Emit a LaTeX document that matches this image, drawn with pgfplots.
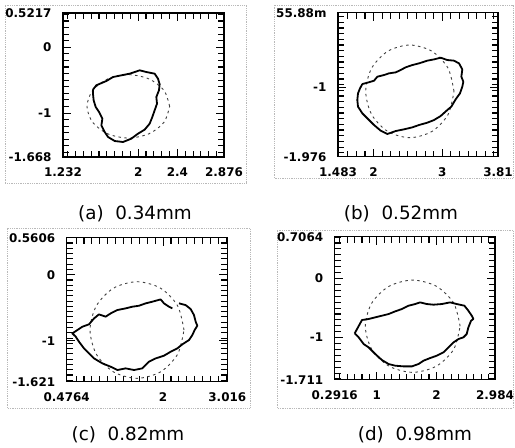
\documentclass[border=0pt]{standalone}
\usepackage{fontspec}
\setmainfont{DejaVu Sans}
\usepackage{pgfplots}
\pgfplotsset{compat=1.18}
\pgfplotsset{
  panel/.style={scale only axis, anchor=south west,
    axis line style={line width=1.2bp},
    tick align=inside,
    xticklabel={\hbox{}}, yticklabel={\hbox{}},
    ticklabel style={font=\bfseries\fontsize{12}{12}\selectfont},
    xticklabel style={yshift=-7.5bp},
    yticklabel style={xshift=-8bp}},
  prof/.style={black, line width=1.8bp, line join=round, mark=none},
  circ/.style={black!75, line width=0.9bp, dash pattern=on 2.5bp off 3.5bp, smooth, mark=none}
}
\begin{document}
\begin{tikzpicture}
\path[use as bounding box] (0,0) rectangle (515bp,448bp);
% outer frames
\draw[gray!55, line width=0.8bp, densely dotted] (5bp,265bp) rectangle (246bp,443bp);
\draw[gray!55, line width=0.8bp, densely dotted] (274bp,270bp) rectangle (513bp,443bp);
\draw[gray!55, line width=0.8bp, densely dotted] (7bp,40bp) rectangle (250bp,220bp);
\draw[gray!55, line width=0.8bp, densely dotted] (277bp,40bp) rectangle (513bp,218bp);
% captions
\node[font=\fontsize{18.4}{20}\selectfont] at (135bp,234bp) {(a)\ \ 0.34mm};
\node[font=\fontsize{18.4}{20}\selectfont] at (401bp,234bp) {(b)\ \ 0.52mm};
\node[font=\fontsize{18.4}{20}\selectfont] at (128bp,13bp) {(c)\ \ 0.82mm};
\node[font=\fontsize{18.4}{20}\selectfont] at (415bp,13bp) {(d)\ \ 0.98mm};

% (a)
\begin{axis}[panel, at={(63bp,291bp)}, width=161bp, height=144bp,
  xmin=1.232, xmax=2.876, ymin=-1.668, ymax=0.5217,
  xtick={1.28,1.36,...,2.85}, ytick={-1.6,-1.5,...,0.5},
  extra x ticks={1.232,2,2.4,2.876}, extra x tick labels={1.232,2,2.4,2.876},
  extra y ticks={-1.668,-1,0,0.5217}, extra y tick labels={-1.668,-1,0,0.5217},
  major tick length=6bp, tick style={black, line width=1.1bp},
  extra tick style={major tick length=8bp}]
\addplot[circ] coordinates {(2.321,-0.898) (2.264,-0.657) (2.110,-0.481) (1.899,-0.416) (1.688,-0.481) (1.534,-0.657) (1.477,-0.898) (1.534,-1.139) (1.688,-1.315) (1.899,-1.380) (2.110,-1.315) (2.264,-1.139) (2.321,-0.898)};
\addplot[prof] coordinates {(1.538,-0.644) (1.572,-0.578) (1.675,-0.512) (1.743,-0.452) (1.828,-0.426) (1.913,-0.401) (2.015,-0.350) (2.083,-0.376) (2.168,-0.401) (2.202,-0.477) (2.219,-0.563) (2.212,-0.654) (2.185,-0.756) (2.192,-0.857) (2.168,-0.958) (2.144,-1.060) (2.117,-1.161) (2.066,-1.252) (1.998,-1.313) (1.930,-1.389) (1.845,-1.440) (1.760,-1.425) (1.692,-1.364) (1.658,-1.288) (1.624,-1.187) (1.634,-1.085) (1.600,-0.984) (1.566,-0.908) (1.545,-0.806) (1.538,-0.705) (1.538,-0.644)};
\end{axis}

% (b)
\begin{axis}[panel, at={(338bp,291.3bp)}, width=160bp, height=144bp,
  xmin=1.483, xmax=3.81, ymin=-1.976, ymax=0.05588,
  xtick={1.625,1.75,...,3.76}, ytick={-1.92,-1.84,...,0.01},
  extra x ticks={1.483,2,3,3.81}, extra x tick labels={1.483,2,3,3.81},
  extra y ticks={-1.976,-1,0.05588}, extra y tick labels={-1.976,-1,55.88m},
  major tick length=6bp, tick style={black, line width=1.1bp},
  extra tick style={major tick length=8bp}]
\addplot[circ] coordinates {(3.170,-1.054) (3.084,-0.727) (2.849,-0.488) (2.528,-0.400) (2.207,-0.488) (1.972,-0.727) (1.886,-1.054) (1.972,-1.381) (2.207,-1.620) (2.528,-1.708) (2.849,-1.620) (3.084,-1.381) (3.170,-1.054)};
\addplot[prof] coordinates {(1.837,-0.951) (1.910,-0.932) (2.007,-0.904) (2.055,-0.847) (2.152,-0.824) (2.225,-0.800) (2.322,-0.786) (2.394,-0.753) (2.467,-0.715) (2.564,-0.683) (2.661,-0.659) (2.782,-0.621) (2.879,-0.603) (2.976,-0.579) (3.073,-0.612) (3.170,-0.621) (3.243,-0.659) (3.291,-0.744) (3.277,-0.847) (3.306,-0.918) (3.291,-0.988) (3.257,-1.082) (3.194,-1.167) (3.131,-1.270) (3.073,-1.317) (2.976,-1.402) (2.879,-1.459) (2.782,-1.496) (2.661,-1.529) (2.564,-1.562) (2.443,-1.590) (2.322,-1.614) (2.200,-1.656) (2.104,-1.609) (2.007,-1.529) (1.910,-1.435) (1.837,-1.364) (1.774,-1.270) (1.764,-1.176) (1.774,-1.082) (1.803,-1.012) (1.837,-0.951)};
\end{axis}

% (c)
\begin{axis}[panel, at={(66.7bp,66.3bp)}, width=160.6bp, height=144bp,
  xmin=0.4764, xmax=3.016, ymin=-1.621, ymax=0.5606,
  xtick={0.625,0.75,...,2.96}, ytick={-1.6,-1.52,...,0.55},
  extra x ticks={0.4764,2,3.016}, extra x tick labels={0.4764,2,3.016},
  extra y ticks={-1.621,-1,0,0.5606}, extra y tick labels={-1.621,-1,0,0.5606},
  major tick length=6bp, tick style={black, line width=1.1bp},
  extra tick style={major tick length=8bp}]
\addplot[circ] coordinates {(2.331,-0.838) (2.231,-0.472) (1.960,-0.204) (1.588,-0.106) (1.216,-0.204) (0.945,-0.472) (0.845,-0.838) (0.945,-1.204) (1.216,-1.472) (1.588,-1.570) (1.960,-1.472) (2.231,-1.204) (2.331,-0.838)};
\addplot[prof] coordinates {(2.252,-0.434) (2.357,-0.460) (2.436,-0.520) (2.489,-0.611) (2.516,-0.712) (2.542,-0.773) (2.500,-0.838) (2.463,-0.914) (2.410,-0.990) (2.305,-1.055) (2.226,-1.116) (2.120,-1.167) (2.015,-1.227) (1.883,-1.268) (1.778,-1.318) (1.672,-1.419) (1.541,-1.444) (1.409,-1.419) (1.277,-1.444) (1.172,-1.394) (1.040,-1.343) (0.909,-1.268) (0.829,-1.192) (0.750,-1.116) (0.671,-1.015) (0.619,-0.939) (0.566,-0.889) (0.645,-0.838) (0.724,-0.788) (0.829,-0.752) (0.909,-0.662) (0.987,-0.601) (1.093,-0.636) (1.172,-0.586) (1.277,-0.535) (1.409,-0.510) (1.514,-0.485) (1.620,-0.470) (1.725,-0.434) (1.831,-0.409) (1.962,-0.374) (2.015,-0.434) (2.094,-0.485) (2.147,-0.510)};
\end{axis}

% (d)
\begin{axis}[panel, at={(334.7bp,68.3bp)}, width=160.3bp, height=143bp,
  xmin=0.2916, xmax=2.984, ymin=-1.711, ymax=0.7064,
  xtick={0.375,0.5,...,2.96}, ytick={-1.7,-1.6,...,0.7},
  extra x ticks={0.2916,1,2,2.984}, extra x tick labels={0.2916,1,2,2.984},
  extra y ticks={-1.711,-1,0,0.7064}, extra y tick labels={-1.711,-1,0,0.7064},
  major tick length=6bp, tick style={black, line width=1.1bp},
  extra tick style={major tick length=8bp}]
\addplot[circ] coordinates {(2.398,-0.807) (2.291,-0.417) (2.000,-0.132) (1.602,-0.027) (1.204,-0.132) (0.913,-0.417) (0.806,-0.807) (0.913,-1.197) (1.204,-1.482) (1.602,-1.587) (2.000,-1.482) (2.291,-1.197) (2.398,-0.807)};
\addplot[prof] coordinates {(0.627,-0.928) (0.750,-0.702) (0.861,-0.685) (0.973,-0.657) (1.085,-0.629) (1.197,-0.601) (1.308,-0.556) (1.420,-0.516) (1.532,-0.460) (1.643,-0.432) (1.727,-0.404) (1.839,-0.432) (1.951,-0.443) (2.090,-0.432) (2.230,-0.404) (2.342,-0.432) (2.470,-0.460) (2.537,-0.545) (2.593,-0.629) (2.621,-0.685) (2.582,-0.714) (2.537,-0.826) (2.509,-0.939) (2.453,-0.995) (2.370,-1.024) (2.286,-1.080) (2.202,-1.164) (2.118,-1.249) (2.006,-1.305) (1.895,-1.345) (1.783,-1.390) (1.699,-1.446) (1.588,-1.486) (1.448,-1.486) (1.308,-1.474) (1.197,-1.446) (1.085,-1.379) (0.973,-1.277) (0.861,-1.164) (0.778,-1.108) (0.694,-0.995) (0.627,-0.928)};
\end{axis}
\end{tikzpicture}
\end{document}
